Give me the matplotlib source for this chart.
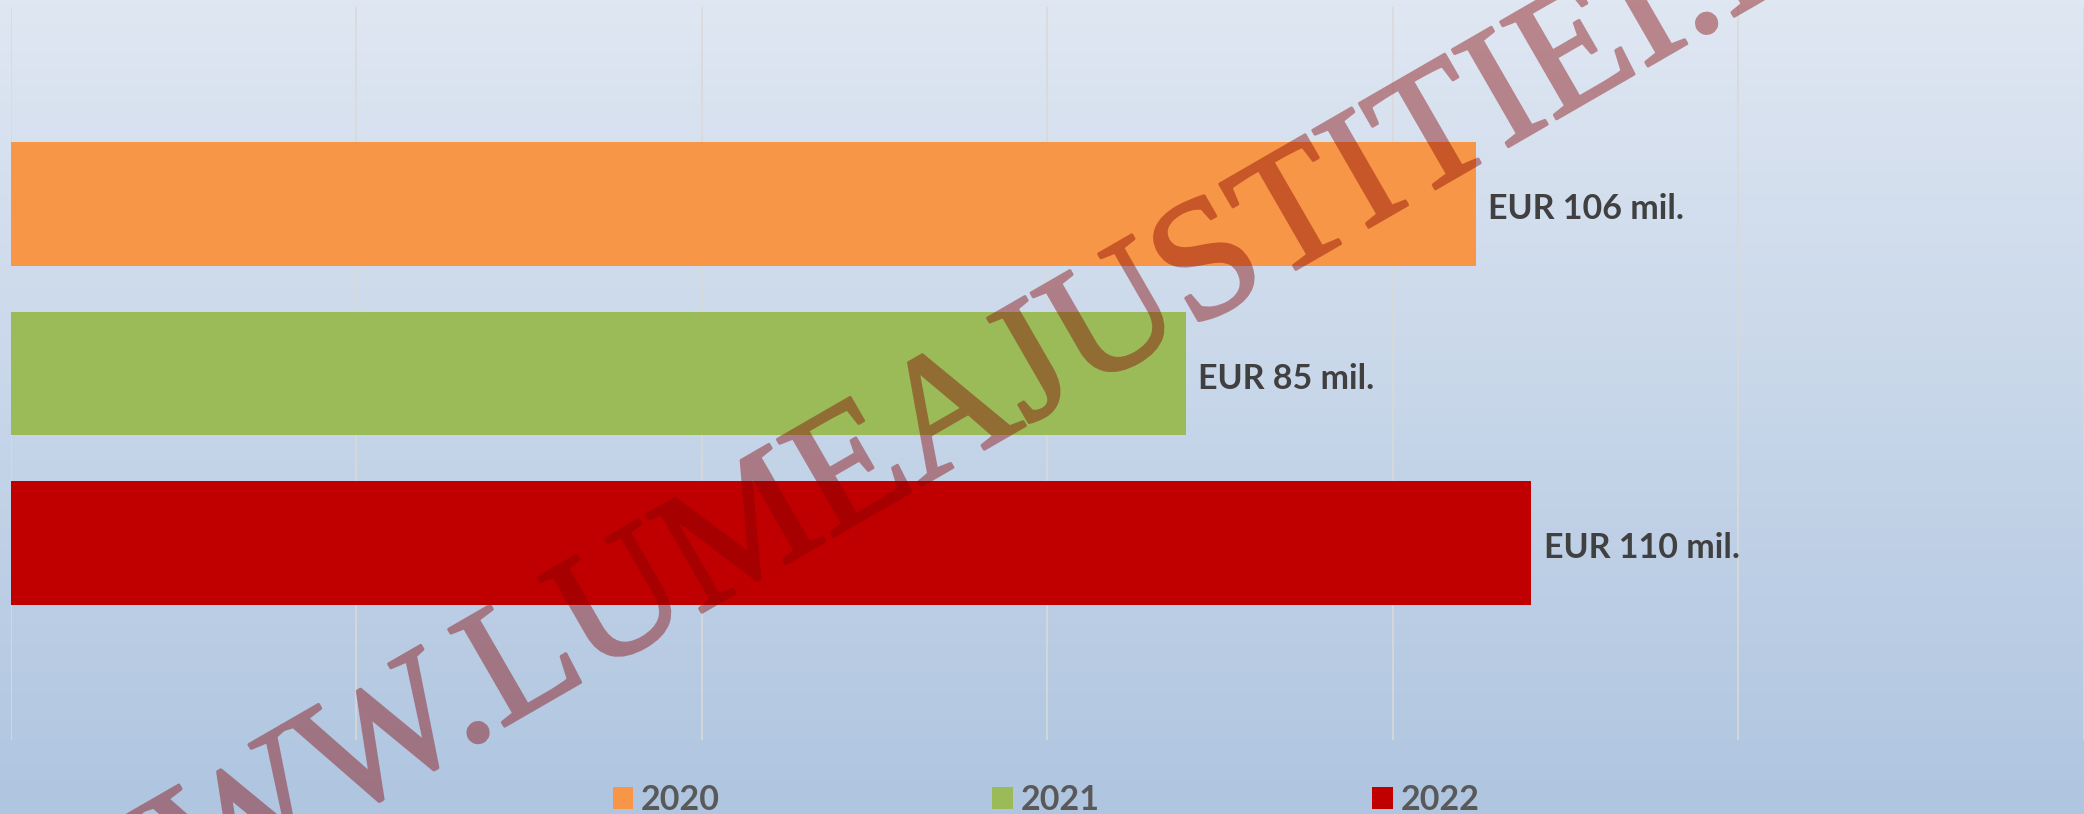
import numpy as np
import matplotlib
matplotlib.use('Agg')
import matplotlib.pyplot as plt
import matplotlib.patheffects as pe
from matplotlib.colors import LinearSegmentedColormap

years = ['2020', '2021', '2022']
values = [106, 85, 110]
labels = ['EUR 106 mil.', 'EUR 85 mil.', 'EUR 110 mil.']
colors = ['#f79646', '#9bbb59', '#c00000']
watermark = 'WWW.LUMEAJUSTITIEI.RO'

fig = plt.figure(figsize=(20.84, 8.14), dpi=100)

# gradient background over the whole figure
bg = fig.add_axes([0, 0, 1, 1], zorder=-10)
grad = np.linspace(0, 1, 256).reshape(-1, 1)
cmap = LinearSegmentedColormap.from_list('bg', ['#dfe7f2', '#afc5e0'])
bg.imshow(grad, aspect='auto', cmap=cmap, extent=[0, 1, 0, 1])
bg.axis('off')

ax = fig.add_axes([0.0051, 0.0909, 0.9949, 0.9005])
ax.set_facecolor('none')
y = np.arange(len(years))
bars = ax.barh(y, values, height=0.73, color=colors, zorder=2)
ax.set_xlim(0, 150)
ax.set_ylim(2 + 1.162, -1.162)
ax.set_xticks(np.arange(0, 151, 25))
ax.grid(axis='x', color='#d9d9d9', lw=1.2, zorder=0)
ax.grid(axis='y', visible=False)
ax.tick_params(left=False, bottom=False, labelleft=False, labelbottom=False)
for s in ax.spines.values():
    s.set_visible(False)

for yi, v, lab in zip(y, values, labels):
    ax.text(v + 0.9, yi + 0.03, lab, va='center', ha='left', fontsize=24.5,
            family='Lato', weight='bold', color='#404040')

fig.legend(bars, years, loc='center', bbox_to_anchor=(0.502, 14 / 814), ncol=3,
           frameon=False, prop=dict(family='Lato', weight='bold', size=24.5),
           labelcolor='#595959', handlelength=0.6, handleheight=0.6,
           handletextpad=0.24, columnspacing=8.0, borderpad=0, borderaxespad=0)


# watermark: drawn opaque (fill + thin outline), then faded as a whole
def fade(img, dpi):
    img = img.copy()
    img[..., 3] *= 0.42
    return img, 0, 0


wm = fig.text(58 / 2084, -170 / 814, watermark, rotation=30, rotation_mode='anchor',
              ha='left', va='baseline', fontsize=123, family='Liberation Serif',
              color='#850000', zorder=10)
wm.set_path_effects([pe.withStroke(linewidth=2.2, foreground='#850000')])
wm.set_agg_filter(fade)

fig.savefig('out.png', dpi=100)
